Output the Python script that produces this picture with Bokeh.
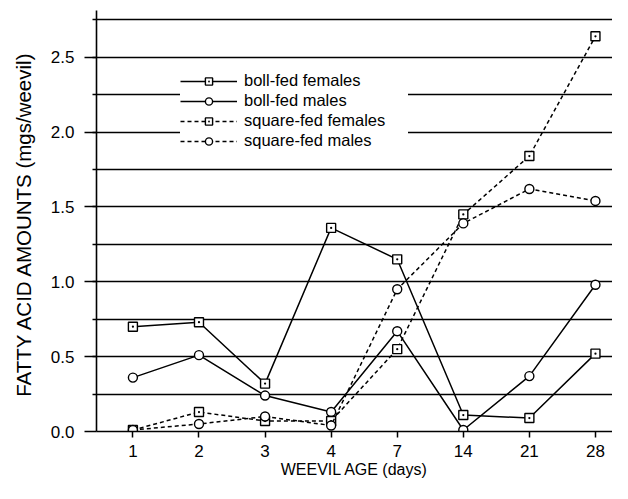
from bokeh.plotting import figure
from bokeh.models import Range1d, FixedTicker, Legend, LegendItem
from bokeh.embed import file_html
from bokeh.resources import INLINE

days = ["1", "2", "3", "4", "7", "14", "21", "28"]
boll_fed_females = [0.70, 0.73, 0.32, 1.36, 1.15, 0.11, 0.09, 0.52]
boll_fed_males = [0.36, 0.51, 0.24, 0.13, 0.67, 0.01, 0.37, 0.98]
square_fed_females = [0.01, 0.13, 0.07, 0.07, 0.55, 1.45, 1.84, 2.64]
square_fed_males = [0.01, 0.05, 0.10, 0.04, 0.95, 1.39, 1.62, 1.54]

y_ticks = [0.0, 0.5, 1.0, 1.5, 2.0, 2.5]
y_tick_labels = ["0.0", "0.5", "1.0", "1.5", "2.0", "2.5"]
grid_values = [0.25, 0.5, 0.75, 1.0, 1.25, 1.5, 1.75, 2.0, 2.25, 2.5, 2.75]

x = list(range(1, len(days) + 1))
FONT = "Liberation Sans"

p = figure(width=612, height=483, output_backend="svg", toolbar_location=None,
           x_range=Range1d(0.449, 8.258), y_range=Range1d(0, 2.812),
           min_border_left=96, min_border_right=0, min_border_top=10,
           min_border_bottom=52)
p.outline_line_color = None
p.background_fill_color = "white"
p.border_fill_color = "white"

p.xgrid.visible = False
p.ygrid.ticker = FixedTicker(ticks=grid_values)
p.ygrid.grid_line_color = "black"
p.ygrid.grid_line_width = 1.6

# x axis
p.xaxis.ticker = FixedTicker(ticks=x)
p.xaxis.major_label_overrides = {i: d for i, d in zip(x, days)}
p.xaxis.major_tick_in = 0
p.xaxis.major_tick_out = 6
p.xaxis.major_label_standoff = 7
p.xaxis.axis_label = "WEEVIL AGE (days)"
p.xaxis.axis_label_standoff = 1

# y axis
p.yaxis.ticker = FixedTicker(ticks=y_ticks, minor_ticks=grid_values)
p.yaxis.major_label_overrides = {t: l for t, l in zip(y_ticks, y_tick_labels)}
p.yaxis.major_tick_in = 0
p.yaxis.major_tick_out = 12
p.yaxis.minor_tick_in = 0
p.yaxis.minor_tick_out = 4
p.yaxis.major_label_standoff = 10
p.yaxis.axis_label = "FATTY ACID AMOUNTS  (mgs/weevil)"
p.yaxis.axis_label_standoff = 13

for ax in (p.xaxis[0], p.yaxis[0]):
    ax.axis_line_color = "black"
    ax.axis_line_width = 1.6
    ax.major_tick_line_color = "black"
    ax.major_tick_line_width = 1.5
    ax.minor_tick_line_width = 1.5
    ax.major_label_text_font = FONT
    ax.major_label_text_font_size = "17px"
    ax.major_label_text_color = "black"
    ax.axis_label_text_font = FONT
    ax.axis_label_text_font_style = "normal"
    ax.axis_label_text_color = "black"
p.xaxis.minor_tick_line_color = None
p.yaxis.minor_tick_line_color = "black"
p.xaxis.axis_label_text_font_size = "16px"
p.yaxis.axis_label_text_font_size = "20.5px"

series = [
    ("boll-fed females", boll_fed_females, "solid", "square_dot"),
    ("boll-fed males", boll_fed_males, "solid", "circle"),
    ("square-fed females", square_fed_females, "4 3", "square_dot"),
    ("square-fed males", square_fed_males, "4 3", "circle"),
]

items = []
for name, vals, dash, marker in series:
    ln = p.line(x, vals, line_color="black", line_width=1.5, line_dash=dash)
    sc = p.scatter(x, vals, marker=marker, size=9, line_color="black",
                   line_width=1.4, fill_color="white")
    items.append(LegendItem(label=name, renderers=[ln, sc]))

legend = Legend(items=items, location=(84, 281), orientation="vertical",
                padding=4, margin=0, spacing=1,
                glyph_width=57, glyph_height=18, label_height=18,
                label_width=164, label_standoff=7,
                label_text_font=FONT, label_text_font_size="16.5px",
                label_text_color="black",
                background_fill_color="white", background_fill_alpha=1.0,
                border_line_color=None)
p.add_layout(legend, "center")

open("out.html", "w").write(file_html(p, INLINE))
